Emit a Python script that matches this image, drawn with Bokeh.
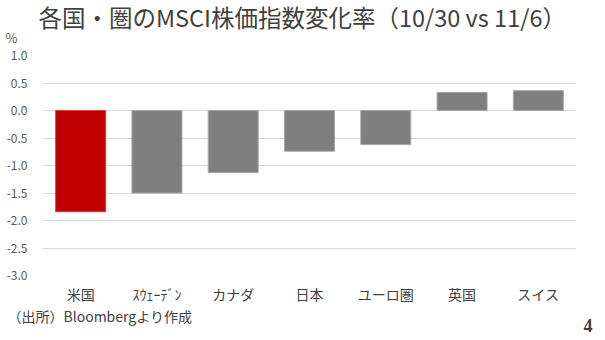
from bokeh.plotting import figure
from bokeh.models import ColumnDataSource, Title, SingleIntervalTicker, NumeralTickFormatter, Range1d
from bokeh.embed import file_html
from bokeh.resources import INLINE

categories = ["米国", "ｽｳｪｰﾃﾞﾝ", "カナダ", "日本", "ユーロ圏", "英国", "スイス"]
values = [-1.84, -1.50, -1.13, -0.74, -0.62, 0.33, 0.36]
colors = ["#C00000", "#7F7F7F", "#7F7F7F", "#7F7F7F", "#7F7F7F", "#7F7F7F", "#7F7F7F"]
line_colors = ["#d04040", "#a6a6a6", "#a6a6a6", "#a6a6a6", "#a6a6a6", "#a6a6a6", "#a6a6a6"]

title_text = "各国・圏のMSCI株価指数変化率（10/30 vs 11/6）"
unit_text = "%"
source_text = "（出所）Bloombergより作成"
page_text = "4"

FONT = "Noto Sans CJK JP"

p = figure(width=605, height=340, x_range=categories, y_range=Range1d(-3.0, 1.0),
           output_backend="svg", toolbar_location=None, title=None,
           min_border_left=42, min_border_right=29, min_border_top=55, min_border_bottom=65)

src = ColumnDataSource(dict(cat=categories, val=values, color=colors, lc=line_colors))
p.vbar(x="cat", top="val", bottom=0, width=0.655, fill_color="color",
       line_color="lc", line_width=1, source=src)

p.outline_line_color = None
p.background_fill_color = "white"
p.border_fill_color = "white"
p.xgrid.grid_line_color = None
p.ygrid.grid_line_color = "#d9d9d9"
p.ygrid.grid_line_width = 1
p.yaxis.ticker = SingleIntervalTicker(interval=0.5)
p.yaxis.formatter = NumeralTickFormatter(format="0.0")
for ax in (p.xaxis[0], p.yaxis[0]):
    ax.axis_line_color = None
    ax.major_tick_line_color = None
    ax.minor_tick_line_color = None
    ax.major_tick_out = 0
    ax.minor_tick_out = 0
    ax.major_label_text_font = FONT
    ax.major_label_text_color = "#595959"
p.yaxis.major_label_text_font_size = "12px"
p.yaxis.major_label_standoff = 15
p.xaxis.major_label_text_font_size = "14px"
p.xaxis.major_label_text_color = "#404040"
p.xaxis.major_label_standoff = 8

# above: first added sits closest to the frame
p.add_layout(Title(text=unit_text, align="left", offset=-37, standoff=15.2,
                   vertical_align="middle", text_font=FONT, text_font_size="13px",
                   text_font_style="normal", text_color="#595959"), "above")
p.add_layout(Title(text=title_text, align="left", offset=-4, standoff=-29.7,
                   vertical_align="middle", text_font=FONT, text_font_size="23.5px",
                   text_font_style="normal", text_color="#404040"), "above")
# below: stacked under the x axis
p.add_layout(Title(text=source_text, align="left", offset=-35, standoff=-2.9,
                   vertical_align="middle", text_font=FONT, text_font_size="14px",
                   text_font_style="normal", text_color="#404040"), "below")
p.add_layout(Title(text=page_text, align="right", offset=-16, standoff=-21.5,
                   vertical_align="middle", text_font="Liberation Sans Narrow",
                   text_font_size="18px", text_font_style="bold",
                   text_color="#404040"), "below")

open("out.html", "w").write(file_html(p, INLINE))
